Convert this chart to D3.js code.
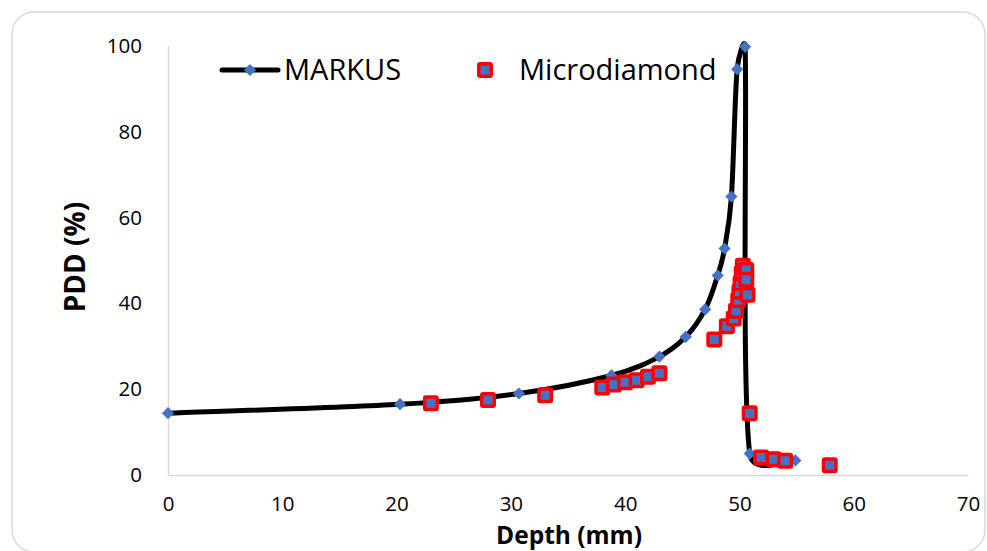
<!DOCTYPE html>
<html>
<head>
<meta charset="utf-8">
<script src="https://cdn.jsdelivr.net/npm/d3@7"></script>
<style>
  body { margin: 0; background: #fff; }
  svg { display: block; }
</style>
</head>
<body>
<script>
    // MARKUS chamber (smoothed line with diamond markers)
    var markusDepth = [0, 20.3, 30.7, 38.8, 43.0, 45.3, 47.0, 48.1, 48.7, 49.3, 49.8, 50.5, 50.9, 54.9];
    var markusPdd = [14.4, 16.5, 19.0, 23.2, 27.6, 32.2, 38.6, 46.5, 52.8, 64.9, 94.6, 99.8, 5.0, 3.4];

    // Microdiamond detector (markers only)
    var diamondDepth = [23, 28, 33, 38, 39, 40, 41, 42, 43, 47.8, 48.9, 49.5, 49.7, 49.9,
        50.0, 50.1, 50.2, 50.3, 50.6, 50.6, 50.7, 50.9, 51.9, 53.0, 54.0, 57.9];
    var diamondPdd = [16.7, 17.5, 18.6, 20.4, 21.1, 21.6, 22.1, 22.9, 23.7, 31.6, 34.7, 36.5, 38.3, 40.8,
        42.7, 44.7, 47.0, 48.8, 47.8, 45.5, 42.0, 14.4, 4.1, 3.7, 3.3, 2.3];

    var xTicks = [0, 10, 20, 30, 40, 50, 60, 70];
    var yTicks = [0, 20, 40, 60, 80, 100];
    var seriesNames = ['MARKUS', 'Microdiamond'];

    var width = 987,
        height = 551,
        font = '"Open Sans", "Noto Sans", sans-serif',
        colorBlue = '#4472C4',
        colorRed = '#FF0000',
        colorAxis = '#d9d9d9';

    var svg = d3.select('body')
            .append('svg')
            .attr('width', width)
            .attr('height', height);

    // Chart area border
    svg.append('rect')
            .attr('x', 12)
            .attr('y', 12)
            .attr('width', 973)
            .attr('height', 540)
            .attr('rx', 22)
            .attr('ry', 22)
            .attr('fill', 'white')
            .attr('stroke', colorAxis)
            .attr('stroke-width', 1.5);

    var x = d3.scaleLinear().domain([0, 70]).range([168, 968]);
    var y = d3.scaleLinear().domain([0, 100]).range([475, 46]);

    // Axes
    var xAxis = d3.axisBottom(x).tickValues(xTicks).tickSize(0).tickPadding(21);
    var yAxis = d3.axisLeft(y).tickValues(yTicks).tickSize(0).tickPadding(26);

    var gx = svg.append('g')
            .attr('transform', 'translate(0,' + y(0) + ')')
            .call(xAxis);
    var gy = svg.append('g')
            .attr('transform', 'translate(' + x(0) + ',0)')
            .call(yAxis);

    [gx, gy].forEach(function (g) {
        g.select('.domain').attr('stroke', colorAxis).attr('stroke-width', 1.5);
        g.selectAll('text')
            .attr('fill', '#000')
            .style('font-family', font)
            .style('font-size', '20.5px');
    });

    // Axis titles
    svg.append('text')
            .attr('x', 569)
            .attr('y', 544)
            .attr('text-anchor', 'middle')
            .style('font-family', font)
            .style('font-size', '24.5px')
            .style('font-weight', 'bold')
            .text('Depth (mm)');

    svg.append('text')
            .attr('transform', 'translate(85,257) rotate(-90)')
            .attr('text-anchor', 'middle')
            .style('font-family', font)
            .style('font-size', '28px')
            .style('font-weight', 'bold')
            .text('PDD (%)');

    // Spreadsheet-style smoothing: bezier handles of 1/6, capped at half the segment
    function smoothPath(pts) {
        var path = d3.path();
        function dist(a, b) { return Math.hypot(b[0] - a[0], b[1] - a[1]); }
        path.moveTo(pts[0][0], pts[0][1]);
        for (var i = 0; i < pts.length - 1; i++) {
            var p0 = pts[Math.max(i - 1, 0)],
                p1 = pts[i],
                p2 = pts[i + 1],
                p3 = pts[Math.min(i + 2, pts.length - 1)];
            var d12 = dist(p1, p2), d02 = dist(p0, p2), d13 = dist(p1, p3);
            var f1 = 1 / 6, f2 = 1 / 6;
            if (d02 / 6 >= d12 / 2) f1 = d12 / (2 * d02);
            if (d13 / 6 >= d12 / 2) f2 = d12 / (2 * d13);
            path.bezierCurveTo(
                p1[0] + f1 * (p2[0] - p0[0]), p1[1] + f1 * (p2[1] - p0[1]),
                p2[0] - f2 * (p3[0] - p1[0]), p2[1] - f2 * (p3[1] - p1[1]),
                p2[0], p2[1]);
        }
        return path.toString();
    }

    // MARKUS line
    var markus = markusDepth.map(function (d, i) { return [d, markusPdd[i]]; });
    var markusPx = markus.map(function (d) { return [x(d[0]), y(d[1])]; });

    svg.append('path')
            .attr('d', smoothPath(markusPx))
            .attr('fill', 'none')
            .attr('stroke', '#000')
            .attr('stroke-width', 5)
            .attr('stroke-linejoin', 'round')
            .attr('stroke-linecap', 'round');

    var diamond = d3.symbol().type(d3.symbolDiamond2).size(95);

    svg.selectAll('.markus-pt').data(markus).enter()
        .append('path')
            .attr('class', 'markus-pt')
            .attr('transform', function (d) { return 'translate(' + x(d[0]) + ',' + y(d[1]) + ')'; })
            .attr('d', diamond)
            .attr('fill', colorBlue);

    // Microdiamond markers
    var micro = diamondDepth.map(function (d, i) { return [d, diamondPdd[i]]; });
    var sq = 12.5;

    svg.selectAll('.micro-pt').data(micro).enter()
        .append('rect')
            .attr('class', 'micro-pt')
            .attr('x', function (d) { return x(d[0]) - sq / 2; })
            .attr('y', function (d) { return y(d[1]) - sq / 2; })
            .attr('width', sq)
            .attr('height', sq)
            .attr('rx', 1.5)
            .attr('fill', colorBlue)
            .attr('stroke', colorRed)
            .attr('stroke-width', 3.5);

    // Legend
    var legend = svg.append('g');
    legend.append('line')
            .attr('x1', 222).attr('x2', 278)
            .attr('y1', 70).attr('y2', 70)
            .attr('stroke', '#000')
            .attr('stroke-width', 5)
            .attr('stroke-linecap', 'round');
    legend.append('path')
            .attr('transform', 'translate(250,70)')
            .attr('d', diamond)
            .attr('fill', colorBlue);
    legend.append('rect')
            .attr('x', 485 - sq / 2).attr('y', 70 - sq / 2)
            .attr('width', sq).attr('height', sq)
            .attr('rx', 1.5)
            .attr('fill', colorBlue)
            .attr('stroke', colorRed)
            .attr('stroke-width', 3.5);
    legend.selectAll('.legend-text').data(seriesNames).enter()
        .append('text')
            .attr('x', function (d, i) { return i === 0 ? 284 : 519; })
            .attr('y', 80)
            .style('font-family', font)
            .style('font-size', '29px')
            .text(function (d) { return d; });
</script>
</body>
</html>
